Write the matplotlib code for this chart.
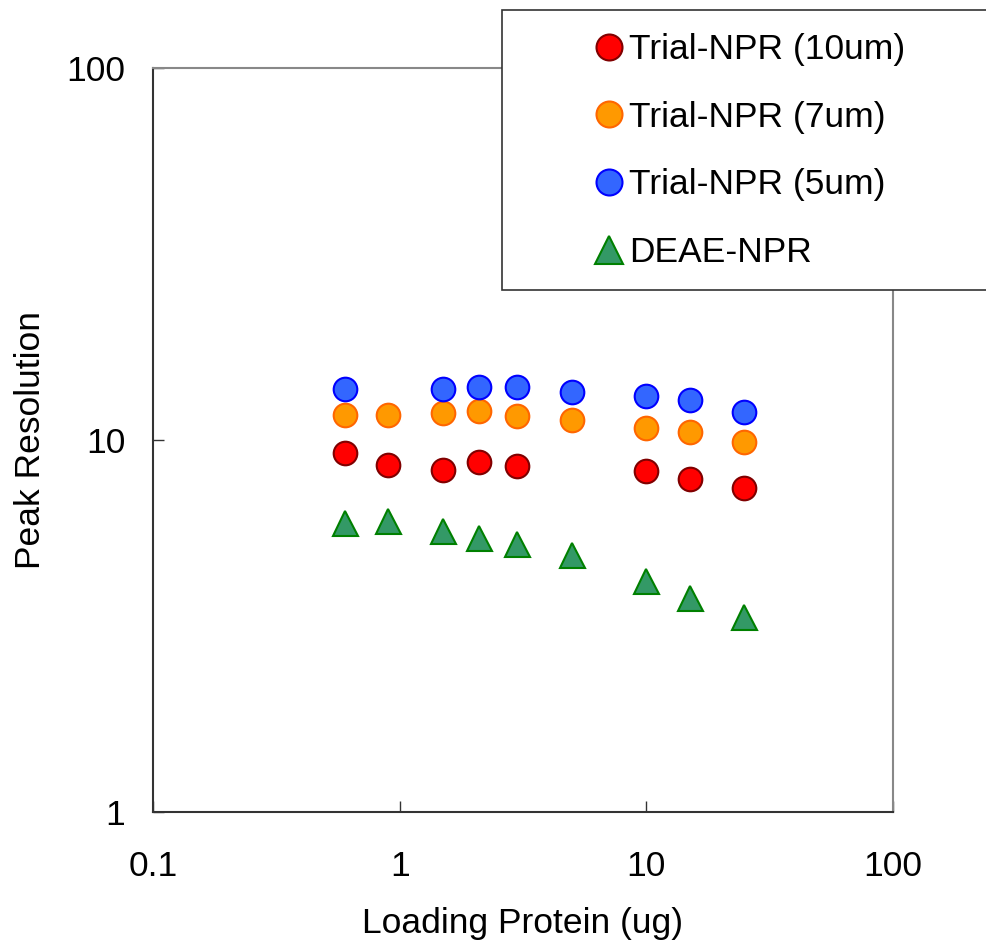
import matplotlib.pyplot as plt
from matplotlib import patches

plt.rcParams['font.family'] = ['Liberation Sans', 'DejaVu Sans']

# loading protein (ug)
load_10um = [0.6, 0.9, 1.5, 2.1, 3, 10, 15, 25]
res_10um = [9.2, 8.57, 8.3, 8.73, 8.5, 8.25, 7.86, 7.43]

load_7um = [0.6, 0.9, 1.5, 2.1, 3, 5, 10, 15, 25]
res_7um = [11.7, 11.7, 11.8, 12.0, 11.6, 11.3, 10.8, 10.5, 9.9]

load_5um = [0.6, 1.5, 2.1, 3, 5, 10, 15, 25]
res_5um = [13.7, 13.7, 13.9, 13.9, 13.5, 13.1, 12.8, 11.9]

load_deae = [0.6, 0.9, 1.5, 2.1, 3, 5, 10, 15, 25]
res_deae = [5.98, 6.06, 5.7, 5.45, 5.25, 4.91, 4.18, 3.76, 3.34]

xticks = [0.1, 1, 10, 100]
xticklabels = ['0.1', '1', '10', '100']
yticks = [1, 10, 100]
yticklabels = ['1', '10', '100']

fs = 25.5

fig = plt.figure(figsize=(9.87, 9.42), dpi=100)
ax = fig.add_axes([153/987, 1-812/942, 740/987, 744/942])

ms = 17
ax.plot(load_10um, res_10um, 'o', ms=ms, mfc='#FF0000', mec='#800000', mew=1.5, label='Trial-NPR (10um)')
ax.plot(load_7um, res_7um, 'o', ms=ms, mfc='#FF9900', mec='#FF6600', mew=1.5, label='Trial-NPR (7um)')
ax.plot(load_5um, res_5um, 'o', ms=ms, mfc='#3366FF', mec='#0000FF', mew=1.5, label='Trial-NPR (5um)')
ax.plot(load_deae, res_deae, '^', ms=18, mfc='#339966', mec='#008000', mew=1.5, label='DEAE-NPR')

ax.set_xscale('log')
ax.set_yscale('log')
ax.set_xlim(0.1, 100)
ax.set_ylim(1, 100)
ax.set_xticks(xticks)
ax.set_xticklabels(xticklabels)
ax.set_yticks(yticks)
ax.set_yticklabels(yticklabels)
ax.minorticks_off()
ax.tick_params(direction='in', length=8, width=1, labelsize=fs, color='#333333')
ax.tick_params(axis='x', pad=27)
ax.tick_params(axis='y', pad=20)

ax.spines['left'].set_color('#333333')
ax.spines['bottom'].set_color('#333333')
ax.spines['top'].set_color('#888888')
ax.spines['right'].set_color('#888888')
for s in ax.spines.values():
    s.set_linewidth(1.5)

ax.set_xlabel('Loading Protein (ug)', fontsize=fs, labelpad=18)
ax.set_ylabel('Peak Resolution', fontsize=fs, labelpad=14)

# legend box (runs off the right edge)
box = patches.Rectangle((502/987, 1-290/942), 500/987, 280/942, transform=fig.transFigure,
                        facecolor='white', edgecolor='#333333', lw=1.2, zorder=5, clip_on=False)
ax.add_patch(box)
leg = ax.legend(loc='upper left', bbox_to_anchor=(595/987, 1-33/942), bbox_transform=fig.transFigure,
                frameon=False, fontsize=fs, handlelength=0.8, handletextpad=0.15,
                labelspacing=0.98, borderpad=0, borderaxespad=0, markerscale=1.1)
leg.set_zorder(6)

fig.savefig('out.png', dpi=100)
